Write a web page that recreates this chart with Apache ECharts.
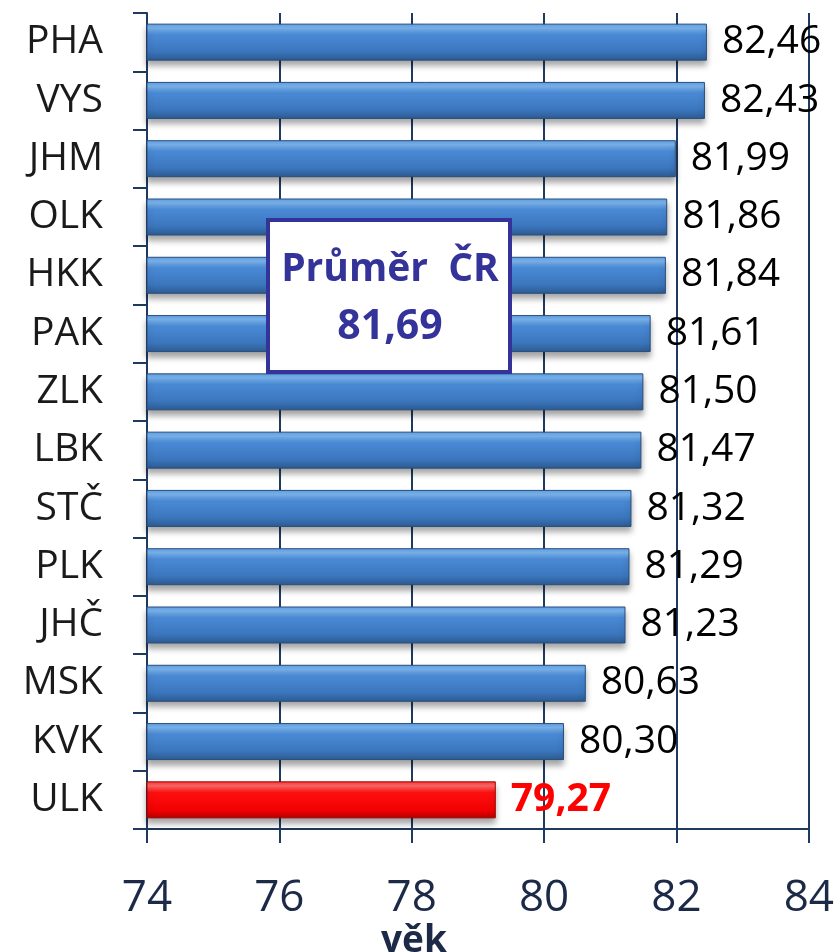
<!DOCTYPE html>
<html>
<head>
<meta charset="utf-8">
<script src="https://cdn.jsdelivr.net/npm/echarts@6/dist/echarts.min.js"></script>
<style>
  html, body { margin: 0; padding: 0; background: #fff; }
  #chart { width: 837px; height: 952px; }
</style>
</head>
<body>
<div id="chart"></div>
<script>
var regions = ['PHA', 'VYS', 'JHM', 'OLK', 'HKK', 'PAK', 'ZLK', 'LBK', 'STČ', 'PLK', 'JHČ', 'MSK', 'KVK', 'ULK'];
var ages = [82.46, 82.43, 81.99, 81.86, 81.84, 81.61, 81.50, 81.47, 81.32, 81.29, 81.23, 80.63, 80.30, 79.27];
var highlight = ['ULK'];
var average = 81.69;

var chart = echarts.init(document.getElementById('chart'));

var fmt = function (v) { return v.toFixed(2).replace('.', ','); };

var blueFill = new echarts.graphic.LinearGradient(0, 0, 0, 1, [
  { offset: 0, color: '#5d9fe6' },
  { offset: 0.12, color: '#7cb6f0' },
  { offset: 0.3, color: '#4a8ad6' },
  { offset: 0.75, color: '#3b76bd' },
  { offset: 1, color: '#2c5a90' }
]);
var redFill = new echarts.graphic.LinearGradient(0, 0, 0, 1, [
  { offset: 0, color: '#ff3030' },
  { offset: 0.12, color: '#ff6a6a' },
  { offset: 0.3, color: '#ff1010' },
  { offset: 0.8, color: '#f00000' },
  { offset: 1, color: '#b00000' }
]);

var barData = ages.map(function (v, i) {
  var hot = highlight.indexOf(regions[i]) >= 0;
  return {
    value: v,
    itemStyle: hot ? { color: redFill, borderColor: '#a00000' } : {},
    label: hot ? { color: '#ff0000', fontWeight: 'bold' } : {}
  };
});

chart.setOption({
  backgroundColor: '#fff',
  animation: false,
  grid: { left: 147, right: 28, top: 13, bottom: 123 },
  xAxis: {
    type: 'value',
    min: 74,
    max: 84,
    interval: 2,
    axisLine: { show: true, lineStyle: { color: '#1f3a5f', width: 2 } },
    axisTick: { show: true, length: 14, lineStyle: { color: '#1f3a5f', width: 2 } },
    axisLabel: { color: '#1c2a48', fontSize: 44, fontFamily: 'Open Sans', margin: 47 },
    splitLine: { show: true, lineStyle: { color: '#1f3a5f', width: 2 } }
  },
  yAxis: {
    type: 'category',
    data: regions,
    inverse: true,
    axisLine: { show: true, lineStyle: { color: '#1f3a5f', width: 2 } },
    axisTick: { show: true, length: 14, lineStyle: { color: '#1f3a5f', width: 2 } },
    axisLabel: { color: '#1a1a1a', fontSize: 39, fontFamily: 'Open Sans', margin: 44 }
  },
  series: [{
    type: 'bar',
    data: barData,
    barWidth: 37,
    itemStyle: {
      color: blueFill,
      borderColor: '#2a4d7a',
      borderWidth: 1,
      shadowColor: 'rgba(0,0,0,0.35)',
      shadowBlur: 6,
      shadowOffsetY: 5
    },
    label: {
      show: true,
      position: 'right',
      distance: 15,
      color: '#000',
      fontSize: 39,
      fontFamily: 'Open Sans',
      formatter: function (p) { return fmt(p.value); }
    }
  }],
  graphic: [
    {
      type: 'group',
      left: 266,
      top: 218,
      z: 100,
      children: [
        {
          type: 'rect',
          z: 100,
          shape: { x: 2, y: 2, width: 242, height: 152 },
          style: { fill: '#fff', stroke: '#333399', lineWidth: 4 }
        },
        {
          type: 'text',
          z: 101,
          x: 124, y: 52,
          style: {
            text: 'Průměr  ČR', fill: '#333399', font: 'bold 39px "Open Sans"',
            align: 'center', verticalAlign: 'middle'
          }
        },
        {
          type: 'text',
          z: 101,
          x: 124, y: 109,
          style: {
            text: fmt(average), fill: '#333399', font: 'bold 41px "Open Sans"',
            align: 'center', verticalAlign: 'middle'
          }
        }
      ]
    },
    {
      type: 'text',
      left: 381,
      top: 923,
      style: { text: 'věk', fill: '#1c2a48', font: 'bold 37px "Open Sans"' }
    }
  ]
});
</script>
</body>
</html>
